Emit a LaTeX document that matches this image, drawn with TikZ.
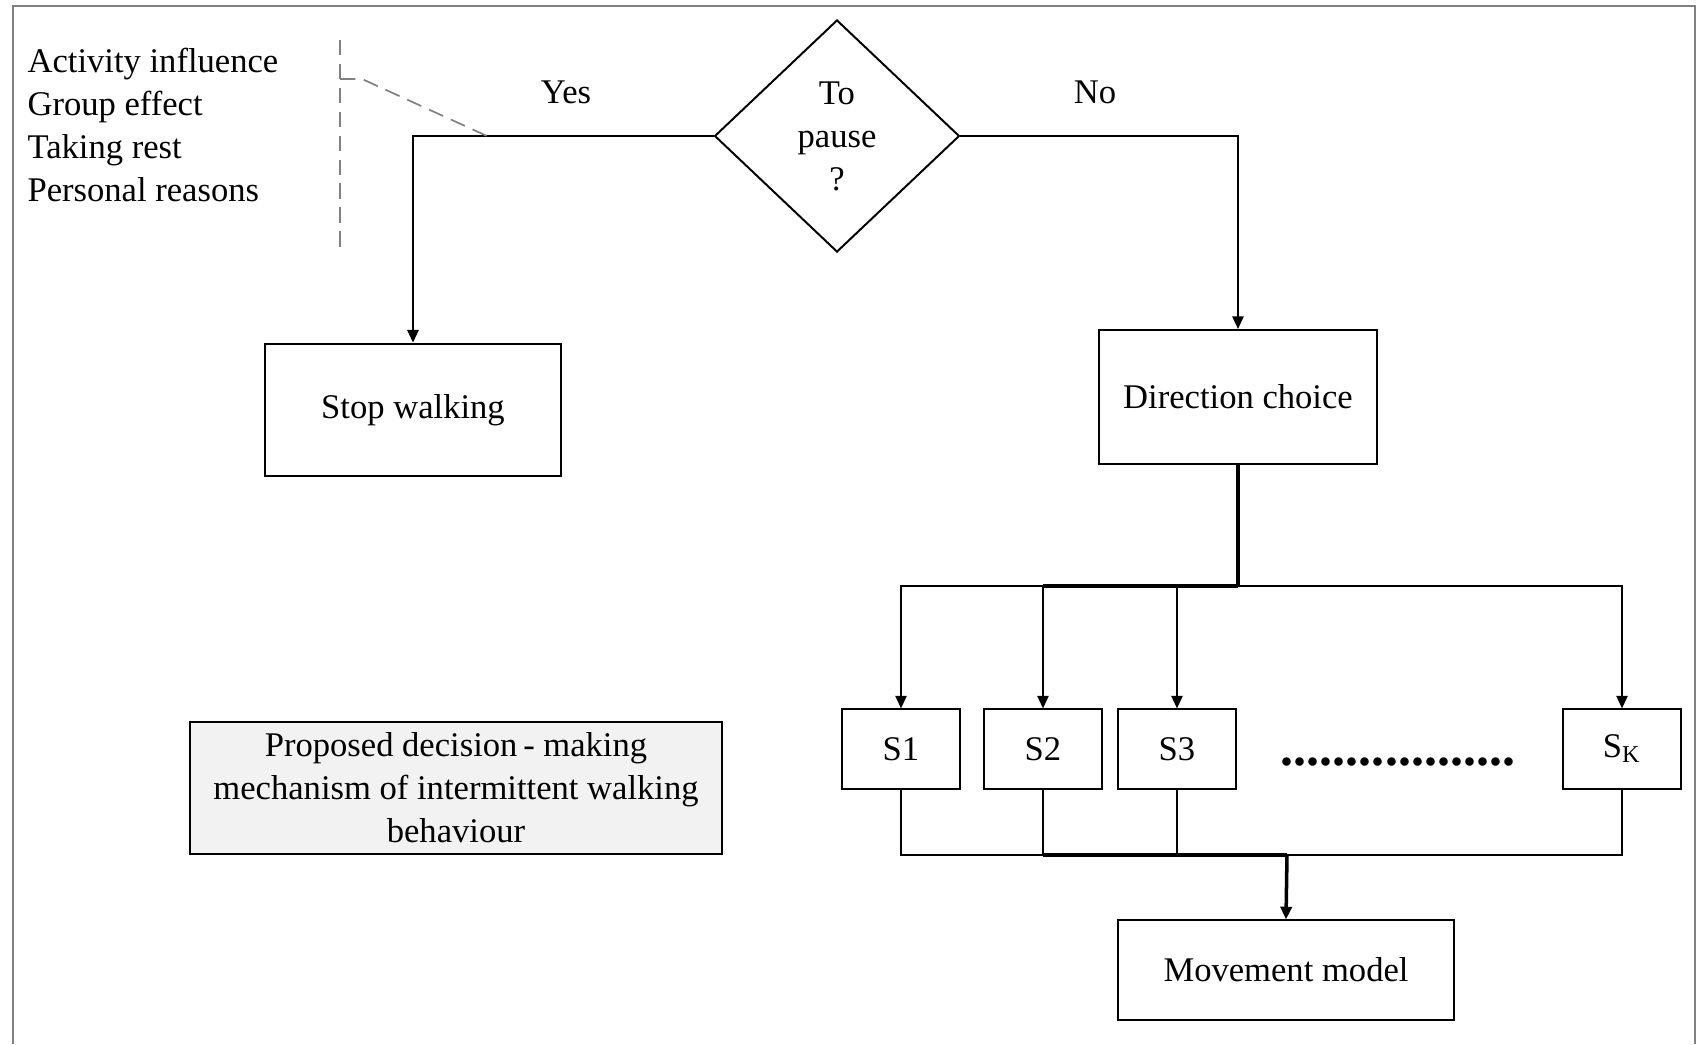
\documentclass[tikz,border=0pt]{standalone}
\usepackage{fontspec}
\setmainfont{Liberation Serif}
\usetikzlibrary{positioning, arrows.meta, shapes.geometric}
\definecolor{framegrey}{RGB}{128,128,128}
\definecolor{notegrey}{RGB}{242,242,242}

\begin{document}
\begin{tikzpicture}[x=0.0125cm, y=-0.0125cm,
        txt/.style={font=\fontsize{12.3}{15.3}\selectfont},
        box/.style={txt, draw, line width=0.7pt, inner sep=0pt, align=center},
        choice/.style={txt, draw, line width=0.7pt, shape=diamond, inner sep=0pt, align=center, minimum width=3.06cm, minimum height=2.9cm},
        link/.style={line width=0.7pt},
        heavy/.style={line width=1.25pt},
        arr/.style={-{Triangle[length=4.5pt, width=4pt]}},
        hint/.style={framegrey, line width=0.6pt, dash pattern=on 5.5pt off 3pt}]
        % page
        \useasboundingbox (0,0) rectangle (1703,1044);
        \draw[framegrey, line width=0.9pt] (13,1044) -- (13,6) -- (1695,6) -- (1695,1044);

        % decision
        \node[choice] (pause) at (837,136) {To\\pause\\?};
        \node[txt] (yes) at (566,92) {Yes};
        \node[txt] (no) at (1095,92) {No};

        % outcomes
        \node[box, minimum width=3.71cm, minimum height=1.66cm] (stop) at (413,410) {\raisebox{-3pt}{Stop walking}};
        \node[box, minimum width=3.475cm, minimum height=1.675cm] (direction) at (1238,397) {Direction choice};

        % strategies
        \node[box, minimum width=1.475cm, minimum height=0.99cm] (s1) at (901,749) {S1};
        \node[box, minimum width=1.475cm, minimum height=0.99cm] (s2) at (1043,749) {S2};
        \node[box, minimum width=1.475cm, minimum height=0.99cm] (s3) at (1177,749) {S3};
        \node[box, minimum width=1.475cm, minimum height=0.99cm] (sk) at (1622,749) {S\textsubscript{K}};
        \node[font=\fontsize{18.5}{20}\selectfont\bfseries, anchor=base] (dots) at (1398,765) {..................};

        \node[box, minimum width=4.19cm, minimum height=1.24cm] (movement) at (1286,970) {Movement model};

        % caption
        \node[box, fill=notegrey, minimum width=6.66cm, minimum height=1.66cm] (caption) at (456,788)
            {\raisebox{-1pt}{\parbox{6.5cm}{\centering Proposed decision\,- making\\mechanism of intermittent walking\\behaviour}}};

        % factors
        \node[txt, anchor=west, align=left, inner sep=0pt] (factors) at (27,125)
            {Activity influence\\Group effect\\Taking rest\\Personal reasons};

        % connectors
        \draw[link, arr] (pause.west) -| (stop.north);
        \draw[link, arr] (pause.east) -| (direction.north);

        \coordinate (split) at (1238,586);
        \draw[heavy] (direction.south) -- (split);
        \draw[heavy] (split) -- (split -| s2.north);
        \foreach \s in {s1,s2,s3,sk}
            \draw[link, arr] (split) -| (\s.north);

        \coordinate (join) at (1287,855);
        \foreach \s in {s1,s2,s3,sk}
            \draw[link] (\s.south) |- (join);
        \draw[heavy] (join -| s2.south) -- (join);
        \draw[heavy, arr] (join) -- (movement.north);

        % factor bracket
        \coordinate (yesmark) at (487,136);
        \draw[hint] (340,40) -- (340,250);
        \draw[hint] (340,79) -- (362,79) -- (yesmark);
\end{tikzpicture}
\end{document}
